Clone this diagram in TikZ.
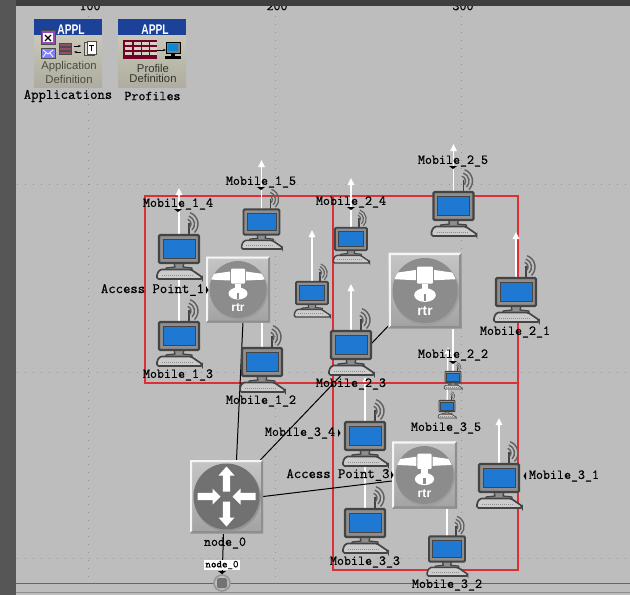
\documentclass[tikz,border=0pt]{standalone}
\usepackage{fontspec}
\setmainfont{Liberation Sans}
\newfontfamily\labfont{Latin Modern Mono}[RawFeature={embolden=0.7}]
\usetikzlibrary{arrows.meta,calc}
\definecolor{bgc}{HTML}{BDBDBD}
\definecolor{framea}{HTML}{565656}
\definecolor{frameb}{HTML}{3E3E3E}
\definecolor{gridc}{HTML}{959595}
\definecolor{redc}{HTML}{DE2F36}
\definecolor{pcdark}{HTML}{444444}
\definecolor{pcscreen}{HTML}{1F78D2}
\definecolor{pcbody}{HTML}{8E8E8E}
\definecolor{dishc}{HTML}{8C8C8C}
\definecolor{routc}{HTML}{717171}
\definecolor{applb}{HTML}{1C4198}
\definecolor{applbody}{HTML}{CAC9B8}
\definecolor{applt}{HTML}{4A4A42}
\pgfdeclarelayer{back}
\pgfsetlayers{back,main}
\tikzset{
 lab/.style={font=\labfont\fontsize{13.6}{14}\selectfont,text=black,inner sep=0pt},
 labwide/.style={font=\labfont\fontsize{14.3}{14}\selectfont,text=black,inner sep=0pt},
 mob/.style={draw=white,line width=1.3pt,-{Triangle[width=6.5pt,length=7pt]}},
 mobplain/.style={draw=white,line width=1.3pt},
 wire/.style={draw=black,line width=1pt},
 zone/.style={draw=redc,line width=1.2pt},
 griddot/.style={draw=gridc,line width=.9pt,dash pattern=on 1pt off 7pt},
 boxface/.style={top color=#1!88!white,bottom color=#1!86!black},
 anchorbox/.style={inner sep=0pt,minimum width=#1,minimum height=#1},
}
% computer: name, monitor centre x,y, scale
\newcommand\pcunit[4]{%
 \begin{scope}[shift={(#2,#3)},scale=#4]
  \draw[pcdark,line width=#4*1.6pt] (10,-14) -- (10,-26);
  \foreach \rr in {5,8.5,12}{\draw[pcdark!85,line width=#4*1.4pt] (7,-25)++(-70:\rr) arc (-70:45:\rr);}
  \draw[pcdark,line width=#4*1.3pt,fill=pcbody,line join=round] (-5,14) -- (-4,18) -- (-13,19) -- (-13,21) -- (13,21) -- (13,19) -- (4,18) -- (5,14) -- cycle;
  \draw[pcdark,line width=#4*1.7pt,fill=pcbody!45!white,rounded corners=#4*1.5pt] (-19,20.5) -- (12,20.5) -- (23,28) -- (23,30) -- (-22,30) -- (-22,25) -- cycle;
  \draw[pcbody,line width=#4*.8pt,dash pattern=on 1pt off 1pt] (-17,26) -- (14,26);
  \draw[pcdark,line width=#4*2.2pt,fill=pcbody,rounded corners=#4*1.2pt] (-20,-14) rectangle (20,14);
  \draw[pcdark,line width=#4*.8pt,fill=pcscreen] (-16,-10) rectangle (16,9.5);
 \end{scope}
 \node[inner sep=0pt,minimum width=#4*41pt,minimum height=#4*29pt] (#1) at (#2,#3) {};
}
% access-point: name, centre, box width
\newcommand\rtrunit[4]{%
 \pgfmathsetmacro\uu{#4/64}
 \pgfmathsetmacro\ff{12*#4/64}
 \node[anchorbox=#4 pt] (#1) at (#2,#3) {};
 \begin{scope}[shift={(#2,#3)},scale=\uu]
  \fill[boxface=bgc] (-32,-33) rectangle (32,33);
  \fill[white!85!bgc] (-32,-33) -- (32,-33) -- (30,-31) -- (-30,-31) -- (-30,31) -- (-32,33) -- cycle;
  \fill[bgc!75!black] (32,33) -- (-32,33) -- (-30,31) -- (30,31) -- (30,-31) -- (32,-33) -- cycle;
  \fill[black!38] (1,1.5) circle (29);
  \fill[dishc] (0,0) circle (28.5);
  \begin{scope}
   \clip (0,0) circle (28.5);
   \fill[white] (-29,-10) -- (-29,-15) -- (-8,-18) -- (-8,-9) -- cycle;
   \fill[white] (29,-10) -- (29,-15) -- (8,-18) -- (8,-9) -- cycle;
  \end{scope}
  \fill[white,rounded corners=1pt] (-7,-21) rectangle (7,-6);
  \fill[white] (-3,-6) rectangle (3,0);
  \fill[white] (0,4) ellipse (9.5 and 6);
  \fill[dishc] (-1,3) rectangle (1,9);
  \node[text=white,font=\bfseries\fontsize{\ff}{12}\selectfont,inner sep=0pt] at (0,18) {rtr};
 \end{scope}
}
\begin{document}
\begin{tikzpicture}[x=1pt,y=1pt,yscale=-1]
\useasboundingbox (0,0) rectangle (630,595);

% computers
\pcunit{m14}{179}{249}{1}
\pcunit{m13}{179}{336}{1}
\pcunit{m15}{261.5}{222}{.9}
\pcunit{m12}{262}{362}{1}
\pcunit{mfree}{312}{293}{.8}
\pcunit{m24}{351}{239}{.8}
\pcunit{m25}{453.5}{206}{1}
\pcunit{m21}{516}{292}{1}
\pcunit{m23}{351}{345}{1}
\pcunit{m22}{453}{377}{.4}
\pcunit{m35}{447}{406}{.4}
\pcunit{m34}{365}{436}{1}
\pcunit{m31}{499}{478}{1}
\pcunit{m33}{365}{523}{1}
\pcunit{m32}{447}{549}{.9}

% access points
\rtrunit{ap1}{238}{289.5}{64}
\rtrunit{ap2}{425}{290.5}{73}
\rtrunit{ap3}{424.5}{475}{65}

% core router
\node[anchorbox=73pt] (n0) at (226.5,496.5) {};
\fill[boxface=bgc] (190,460) rectangle (263,533);
\fill[white!85!bgc] (190,460) -- (263,460) -- (261,462) -- (192,462) -- (192,531) -- (190,533) -- cycle;
\fill[bgc!75!black] (263,533) -- (190,533) -- (192,531) -- (261,531) -- (261,462) -- (263,460) -- cycle;
\fill[black!42] (227.5,498) circle (33.5);
\fill[routc] (226.5,496.5) circle (33);
\begin{scope}[shift={(226.5,496.5)}]
 \foreach \ang in {-90,90}{
  \begin{scope}[rotate=\ang]
   \fill[white] (5,-3.6) -- (21,-3.6) -- (21,-8) -- (30,0) -- (21,8) -- (21,3.6) -- (5,3.6) -- cycle;
  \end{scope}}
 \foreach \ang in {0,180}{
  \begin{scope}[rotate=\ang]
   \fill[white] (29,-3.6) -- (14,-3.6) -- (14,-8) -- (6,0) -- (14,8) -- (14,3.6) -- (29,3.6) -- cycle;
  \end{scope}}
\end{scope}

% bottom node
\node[circle,draw=gridc,fill=bgc,line width=1.6pt,minimum size=16pt,inner sep=0pt] (sub) at (222,583) {};
\fill[black!55,rounded corners=1.5pt] (217,578) rectangle (227,588);

% APPL icons
\fill[boxface=applbody] (34,19) rectangle (102,87);
\fill[boxface=applbody] (118,19) rectangle (186,87);
\fill[applb] (34,19) rectangle (102,35);
\fill[applb] (118,19) rectangle (186,35);
\node[font=\bfseries\fontsize{14}{14}\selectfont,text=white,inner sep=0pt,xscale=.73] (ha) at (71,29.5) {APPL};
\node[font=\bfseries\fontsize{14}{14}\selectfont,text=white,inner sep=0pt,xscale=.73] (hb) at (155,29.5) {APPL};
\node[font=\fontsize{11.3}{11}\selectfont,text=applt,inner sep=0pt] (ta1) at (69,67) {Application};
\node[font=\fontsize{11.3}{11}\selectfont,text=applt,inner sep=0pt] (ta2) at (69,79) {Definition};
\node[font=\fontsize{11.3}{11}\selectfont,text=applt!70!black,inner sep=0pt] (tb1) at (153,68) {Profile};
\node[font=\fontsize{11.3}{11}\selectfont,text=applt!70!black,inner sep=0pt] (tb2) at (153,78) {Definition};
% application glyphs
\draw[black!70,fill=purple!55!blue!70!white,line width=.8pt] (41,30) rectangle (55,44);
\fill[white] (43,33) rectangle (53,42);
\draw[black,line width=1.1pt] (45,35) -- (51,41) (51,35) -- (45,41);
\draw[black!70,fill=blue!50!white,line width=.8pt] (41,48) rectangle (55,58);
\draw[white,line width=.8pt] (43,50) -- (48,54) -- (53,50) (43,57) -- (46,53) (53,57) -- (50,53);
\foreach \yy in {43,47,51}{\draw[black!70,fill=purple!40!gray,line width=.7pt] (59,\yy) rectangle (71,\yy+3.5);}
\draw[black,line width=.8pt,-{Stealth[length=3pt]}] (74,46) -- (81,46);
\draw[black,line width=.8pt,-{Stealth[length=3pt]}] (81,52) -- (74,52);
\draw[black!70,fill=applbody!70!white,line width=.8pt] (84,42) rectangle (94,55);
\draw[black!70,fill=white,line width=.8pt] (87,41) rectangle (96,54);
\draw[black,line width=.6pt] (89,45) -- (94,45) (91.5,45) -- (91.5,51);
% profile glyphs
\fill[purple!60!black] (123,40) rectangle (157,59);
\foreach \yy in {42,47,52}{\foreach \xx in {125,134,142,150}{\fill[applbody!85!white] (\xx,\yy) rectangle (\xx+6.5,\yy+3.2);}}
\draw[black,line width=.8pt,-{Stealth[length=3pt]}] (157,50) -- (166,50);
\draw[black,fill=gray,line width=.6pt] (166,42) rectangle (180,53);
\fill[cyan!70!blue] (168,44) rectangle (178,51);
\fill[black] (171,53) rectangle (175,56);
\fill[black] (165,56) rectangle (181,58.5);

% labels
\node[labwide] (lapps) at (68,96) {Applications};
\node[lab] (lprof) at (152.5,96) {Profiles};
\node[lab] (l14) at (178,204) {Mobile\_1\_4};
\node[lab] (l15) at (261,182) {Mobile\_1\_5};
\node[lab] (l13) at (178,375) {Mobile\_1\_3};
\node[lab] (l12) at (261,401) {Mobile\_1\_2};
\node[lab] (l24) at (351,202) {Mobile\_2\_4};
\node[lab] (l25) at (453,161) {Mobile\_2\_5};
\node[lab] (l21) at (515,332) {Mobile\_2\_1};
\node[lab] (l22) at (453,355) {Mobile\_2\_2};
\node[lab] (l23) at (351,384) {Mobile\_2\_3};
\node[lab] (l35) at (446,428) {Mobile\_3\_5};
\node[lab] (l34) at (300,433) {Mobile\_3\_4};
\node[lab] (l31) at (564,476) {Mobile\_3\_1};
\node[lab] (l33) at (365,562) {Mobile\_3\_3};
\node[lab] (l32) at (447,585) {Mobile\_3\_2};
\node[labwide] (lap1) at (152.5,290) {Access Point\_1};
\node[labwide] (lap3) at (338,475) {Access Point\_3};
\node[lab] (ln0) at (225,543) {node\_0};
\node[lab,fill=white,font=\labfont\fontsize{10.5}{10}\selectfont,inner xsep=1pt,inner ysep=.5pt] (ln0b) at (222,565) {node\_0};

% label pointer marks
\foreach \px/\py in {178/209,261/187,351/207,453/166,453/361,222/571}{
 \fill[black] (\px-4,\py) -- (\px+4,\py) -- (\px,\py+3) -- cycle;}
\foreach \px/\py in {206/290,391/475,338/433}{
 \fill[black] (\px,\py-4) -- (\px,\py+4) -- (\px+2.5,\py) -- cycle;}
\fill[black] (526,472) -- (526,480) -- (523.5,476) -- cycle;

\begin{pgfonlayer}{back}
 \fill[bgc] (0,0) rectangle (630,595);
 % grid
 \foreach \gx in {88,275,461}{\draw[griddot] (\gx,8) -- (\gx,582);}
 \foreach \gy in {184,372,558}{\draw[griddot] (17,\gy) -- (630,\gy);}
 % ruler
 \node[lab] (r1) at (90,6) {100};
 \node[lab] (r2) at (277,6) {200};
 \node[lab] (r3) at (463,6) {300};
 \fill[frameb] (0,0) rectangle (630,6);
 \fill[framea] (0,0) rectangle (16,595);
 \draw[black!60,line width=1.2pt] (16,583.5) -- (630,583.5);
 \draw[black!45,line width=1pt] (16,592.5) -- (630,592.5);
 % zones
 \node[inner sep=0pt,minimum size=0pt] (z1a) at (145,196) {};
 \node[inner sep=0pt,minimum size=0pt] (z1b) at (333,383) {};
 \node[inner sep=0pt,minimum size=0pt] (z2a) at (333,196) {};
 \node[inner sep=0pt,minimum size=0pt] (z2b) at (518,383) {};
 \node[inner sep=0pt,minimum size=0pt] (z3b) at (518,570) {};
 \draw[zone] (z1a.center) rectangle (z1b.center);
 \draw[zone] (z2a.center) rectangle (z2b.center);
 \draw[zone] (z1b.center) -- (z1b.center |- z3b.center) -- (z3b.center) -- (z2b.center);
 % mobility vectors
 \coordinate (t14) at (179,188);
 \coordinate (t15) at (261.5,160);
 \coordinate (tfree) at (312,230);
 \coordinate (t24) at (351,178);
 \coordinate (t25) at (453.5,144);
 \coordinate (t21) at (516,232);
 \coordinate (t23) at (351,284);
 \coordinate (t35) at (448,347);
 \coordinate (t34) at (365,377);
 \coordinate (t31) at (499,418);
 \draw[mob] (m14) -- (t14);
 \draw[mob] (m15) -- (t15);
 \draw[mob] (mfree) -- (tfree);
 \draw[mob] (m24) -- (t24);
 \draw[mob] (m25) -- (t25);
 \draw[mob] (m21) -- (t21);
 \draw[mob] (m23) -- (t23);
 \draw[mob] (m35.center) -- (t35);
 \draw[mob] (m34) -- (t34);
 \draw[mob] (m31) -- (t31);
 \draw[mobplain] (m13) -- (m14);
 \draw[mobplain] (m12.center) -- (m12.center |- ap1.center);
 \draw[mobplain] (m22.center) -- (m22.center |- ap2.center);
 \draw[mobplain] (m33) -- (m34);
 \draw[mobplain] (m32.center) -- (m32.center |- ap3.center);
 % links
 \draw[wire] ([xshift=10pt]n0.north) -- ([xshift=5pt]ap1.south);
 \draw[wire] ([xshift=34pt]n0.north) -- ([xshift=-36pt,yshift=-2pt]ap2.south);
 \draw[wire] (n0.east) -- ([yshift=6pt]ap3.west);
 \draw[wire] ([xshift=-3pt]n0.south) -- (sub);
 \draw[zone] (z1b.center) -- (z2b.center);
\end{pgfonlayer}
\end{tikzpicture}
\end{document}
